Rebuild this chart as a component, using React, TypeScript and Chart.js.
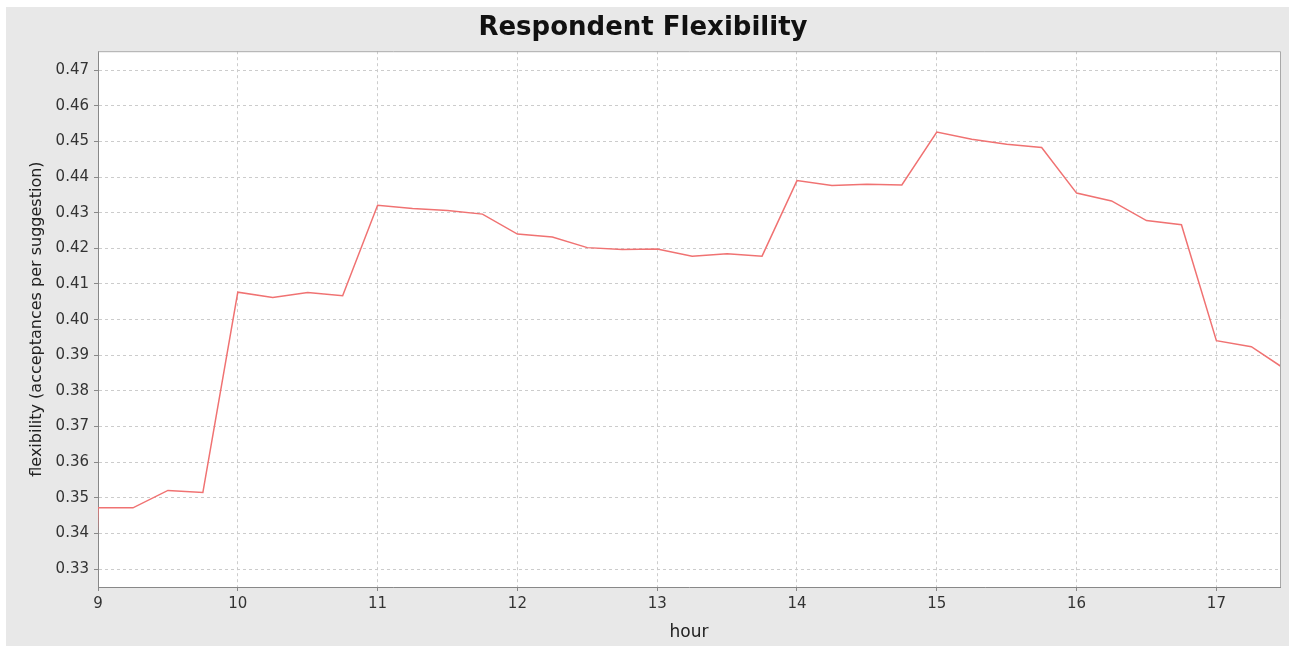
import { useEffect, useRef } from "react";
import { Chart, registerables } from "chart.js";

Chart.register(...registerables);

// hours of the day (quarter-hour samples)
const hours = [
  8.75, 9, 9.25, 9.5, 9.75, 10, 10.25, 10.5, 10.75, 11, 11.25, 11.5, 11.75,
  12, 12.25, 12.5, 12.75, 13, 13.25, 13.5, 13.75, 14, 14.25, 14.5, 14.75,
  15, 15.25, 15.5, 15.75, 16, 16.25, 16.5, 16.75, 17, 17.25, 17.5,
];

// acceptances per suggestion
const flexibility = [
  0.0, 0.3472, 0.3472, 0.3521, 0.3515, 0.4077, 0.4062, 0.4076, 0.4067, 0.4321,
  0.4312, 0.4306, 0.4296, 0.424, 0.4232, 0.4202, 0.4197, 0.4198, 0.4178,
  0.4185, 0.4178, 0.439, 0.4376, 0.438, 0.4378, 0.4526, 0.4506, 0.4492,
  0.4483, 0.4355, 0.4333, 0.4278, 0.4266, 0.3941, 0.3924, 0.3859,
];

const GRAY_BG = "#e8e8e8";
const AXIS = "#888888";
const GRID = "#cccccc";
const FONT = "'DejaVu Sans', sans-serif";

const plotBackground = {
  id: "plotBackground",
  beforeDraw(chart: Chart) {
    const { ctx, chartArea, width, height } = chart;
    ctx.save();
    ctx.fillStyle = GRAY_BG;
    ctx.fillRect(0, 0, width, height);
    ctx.fillStyle = "#ffffff";
    ctx.fillRect(chartArea.left, chartArea.top, chartArea.right - chartArea.left, chartArea.bottom - chartArea.top);
    ctx.restore();
  },
  afterDraw(chart: Chart) {
    const { ctx, chartArea } = chart;
    ctx.save();
    ctx.strokeStyle = "#a8a8a8";
    ctx.lineWidth = 1;
    ctx.beginPath();
    ctx.moveTo(chartArea.left, chartArea.top + 0.5);
    ctx.lineTo(chartArea.right + 0.5, chartArea.top + 0.5);
    ctx.lineTo(chartArea.right + 0.5, chartArea.bottom);
    ctx.stroke();
    ctx.restore();
  },
};

const App = () => {
  const canvasRef = useRef<HTMLCanvasElement | null>(null);

  useEffect(() => {
    let chart: Chart | null = null;
    if (canvasRef.current) {
      chart = new Chart(canvasRef.current, {
        type: "line",
        data: {
          datasets: [
            {
              label: "flexibility",
              data: hours.map((h, i) => ({ x: h, y: flexibility[i] })),
              borderColor: "#f07272",
              borderWidth: 1.5,
              pointRadius: 0,
              tension: 0,
              fill: false,
            },
          ],
        },
        options: {
          animation: false,
          responsive: true,
          maintainAspectRatio: false,
          layout: { padding: { left: 0, right: 9, top: 0, bottom: 0 } },
          plugins: {
            legend: { display: false },
            tooltip: { enabled: false },
            title: {
              display: true,
              text: "Respondent Flexibility",
              color: "#111111",
              font: { family: FONT, size: 26, weight: "bold" },
              padding: { top: 6, bottom: 7 },
            },
          },
          scales: {
            x: {
              type: "linear",
              min: 9,
              max: 17.455,
              afterFit: (scale: any) => {
                scale.height = 59;
              },
              ticks: {
                stepSize: 1,
                includeBounds: false,
                autoSkip: false,
                maxRotation: 0,
                padding: 4,
                color: "#333333",
                font: { family: FONT, size: 15 },
                callback: (v: any) => String(v),
              },
              grid: {
                color: GRID,
                lineWidth: 1,
                tickLength: 4,
                tickColor: AXIS,
                tickBorderDash: [],
              },
              border: { display: true, color: AXIS, width: 1, dash: [3, 3] },
              title: {
                display: true,
                text: "hour",
                color: "#222222",
                font: { family: FONT, size: 17 },
                padding: { top: 0, bottom: 3 },
              },
            },
            y: {
              type: "linear",
              min: 0.325,
              max: 0.4753,
              afterFit: (scale: any) => {
                scale.width = 92;
              },
              ticks: {
                stepSize: 0.01,
                includeBounds: false,
                padding: 5,
                color: "#333333",
                font: { family: FONT, size: 15 },
                callback: (v: any) => Number(v).toFixed(2),
              },
              grid: {
                color: GRID,
                lineWidth: 1,
                tickLength: 4,
                tickColor: AXIS,
                tickBorderDash: [],
              },
              border: { display: true, color: AXIS, width: 1, dash: [3, 3] },
              title: {
                display: true,
                text: "flexibility (acceptances per suggestion)",
                color: "#222222",
                font: { family: FONT, size: 16 },
                padding: { top: 21, bottom: 0 },
              },
            },
          },
        },
        plugins: [plotBackground],
      });
    }
    return () => {
      chart?.destroy();
    };
  }, []);

  return (
    <div style={{ position: "absolute", left: 6, top: 7, width: 1283, height: 639 }}>
      <canvas ref={canvasRef} />
    </div>
  );
};

export default App;
